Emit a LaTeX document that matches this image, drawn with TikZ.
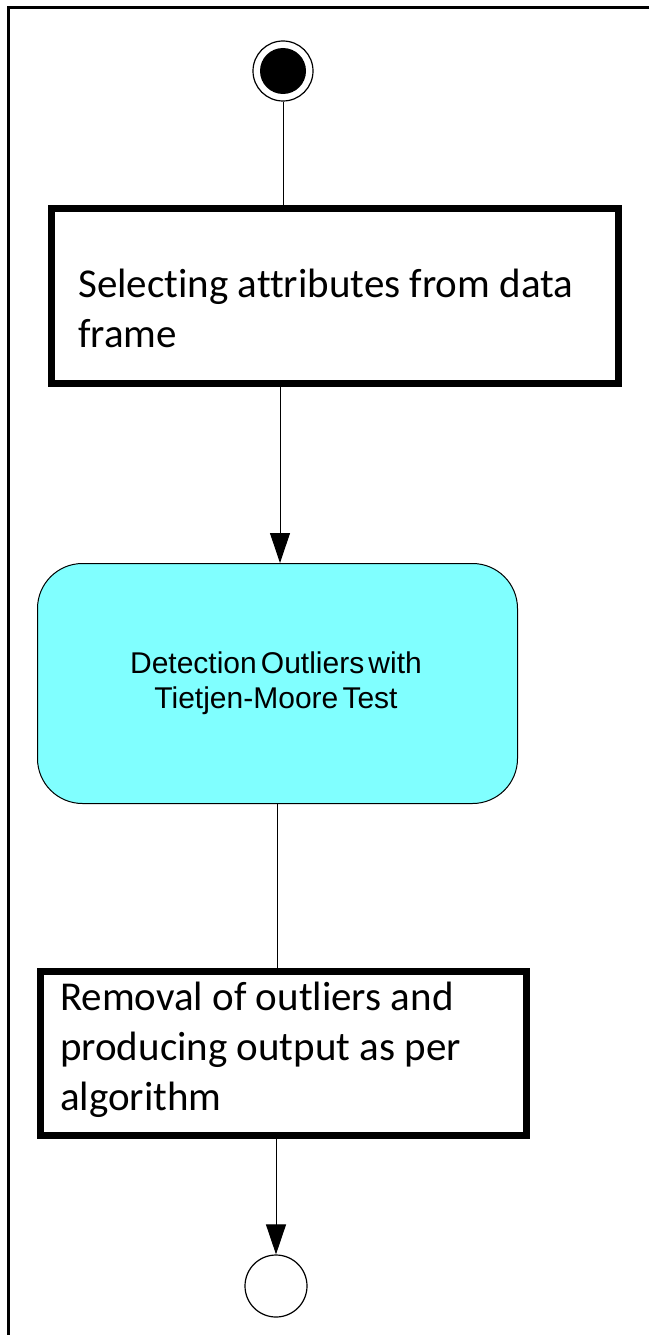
\documentclass[tikz,border=0pt]{standalone}
\usepackage{fontspec}
\setmainfont[Ligatures=NoCommon]{Carlito}
\newfontfamily\arialfont[WordSpace=0.5]{Liberation Sans}
\usetikzlibrary{arrows.meta}
\definecolor{actfill}{RGB}{128,255,255}
\begin{document}
\begin{tikzpicture}[x=1pt,y=-1pt,
  thickbox/.style={draw=black,line width=7pt,fill=white,align=left,anchor=north west,inner sep=0pt},
  activity/.style={draw=black,line width=1pt,fill=actfill,rounded corners=45pt,anchor=north west,align=center,inner sep=0pt},
  boxtext/.style={anchor=west,align=left,font=\fontsize{41}{50}\selectfont,inner sep=0pt},
  conn/.style={draw=black,line width=1pt},
  arr/.style={conn,-{Triangle[length=30pt,width=20pt]}}]
\useasboundingbox (0,0) rectangle (649,1335);
\draw[line width=3pt] (649,8) -- (8,8) -- (8,1335);
% start
\node[circle,draw,line width=1.2pt,minimum size=60pt,inner sep=0pt] (start) at (283,71) {};
\fill (start.center) circle (23pt);
% box1
\node[thickbox,minimum width=567pt,minimum height=175pt] (b1) at (48,205) {};
\node[boxtext] (t1) at (78,308) {Selecting attributes from data\\frame};
% box2
\node[activity,minimum width=480pt,minimum height=240pt] (b2) at (37,563) {};
\node[font=\arialfont\fontsize{30}{35}\selectfont,align=center,inner sep=0pt] (t2) at (276,683) {Detection Outliers with\\Tietjen-Moore Test};
% box3
\node[thickbox,minimum width=486pt,minimum height=164pt] (b3) at (37,968) {};
\node[boxtext] (t3) at (60,1050) {Removal of outliers and\\producing output as per\\algorithm};
% end
\node[circle,draw,line width=1.2pt,minimum size=62pt,inner sep=0pt] (end) at (276,1286) {};
% connectors
\draw[conn] (start.south) -- (start.south |- b1.north);
\draw[arr] (280,380) -- (280,563);
\draw[conn] (277,803) -- (277,968);
\draw[arr] (276,1132) -- (end.north);
\end{tikzpicture}
\end{document}
